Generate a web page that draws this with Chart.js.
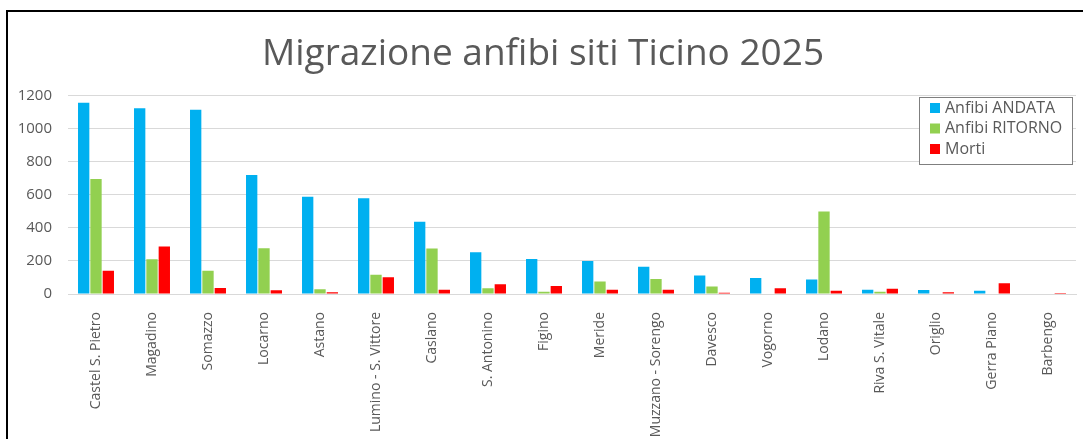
<!DOCTYPE html>
<html>
<head>
<meta charset="utf-8">
<script src="https://cdn.jsdelivr.net/npm/chart.js@4.4.1/dist/chart.umd.min.js"></script>
<style>
    html, body { margin: 0; padding: 0; background: #fff; overflow: hidden; }
    #wrap { position: relative; width: 1083px; height: 439px; }
    #frame { position: absolute; left: 6px; top: 10px; width: 1100px; height: 460px; border: 2px solid #000; box-sizing: border-box; }
    #chart { position: absolute; left: 0; top: 0; }
</style>
</head>
<body>
<div id="wrap">
    <div id="frame"></div>
    <canvas id="chart" width="1083" height="439"></canvas>
</div>
<script>
// siti e conteggi
var siti = ['Castel S. Pietro', 'Magadino', 'Somazzo', 'Locarno', 'Astano', 'Lumino - S. Vittore',
    'Caslano', 'S. Antonino', 'Figino', 'Meride', 'Muzzano - Sorengo', 'Davesco', 'Vogorno',
    'Lodano', 'Riva S. Vitale', 'Origlio', 'Gerra Piano', 'Barbengo'];
var andata  = [1155, 1123, 1113, 719, 588, 578, 436, 253, 212, 200, 164, 112, 97, 87, 26, 24, 20, 0];
var ritorno = [695, 210, 141, 277, 28, 117, 275, 34, 14, 75, 91, 46, 3, 499, 14, 0, 0, 0];
var morti   = [141, 287, 36, 22, 10, 101, 26, 59, 48, 26, 26, 7, 34, 20, 32, 10, 65, 6];
var yTicks  = [0, 200, 400, 600, 800, 1000, 1200];

var FONT = "'Open Sans', sans-serif";
var GREY = '#595959';

// legenda con cornice, disegnata sopra l'area del grafico
var boxLegend = {
    id: 'boxLegend',
    afterDraw: function(chart) {
        var ctx = chart.ctx;
        var x = 919, y = 97, w = 153, h = 67;
        ctx.save();
        ctx.fillStyle = '#fff';
        ctx.fillRect(x, y, w, h);
        ctx.strokeStyle = '#7f7f7f';
        ctx.lineWidth = 1;
        ctx.strokeRect(x + 0.5, y + 0.5, w, h);
        ctx.font = '16px ' + FONT;
        ctx.textBaseline = 'middle';
        chart.data.datasets.forEach(function(ds, i) {
            var cy = y + 11 + i * 20.5;
            ctx.fillStyle = ds.backgroundColor;
            ctx.fillRect(x + 11, cy - 5, 10, 10);
            ctx.fillStyle = GREY;
            ctx.fillText(ds.label, x + 26, cy);
        });
        ctx.restore();
    }
};

var ctx = document.getElementById('chart').getContext('2d');
var myChart = new Chart(ctx, {
    type: 'bar',
    data: {
        labels: siti,
        datasets: [
            { label: 'Anfibi ANDATA', data: andata, backgroundColor: '#00B0F0' },
            { label: 'Anfibi RITORNO', data: ritorno, backgroundColor: '#92D050' },
            { label: 'Morti', data: morti, backgroundColor: '#FF0000' }
        ]
    },
    options: {
        responsive: false,
        animation: false,
        devicePixelRatio: 1,
        layout: { padding: { left: 10, right: 7, top: 0, bottom: 0 } },
        datasets: {
            bar: { categoryPercentage: 0.66, barPercentage: 0.92 }
        },
        scales: {
            y: {
                min: 0,
                max: 1200,
                afterBuildTicks: function(scale) {
                    scale.ticks = yTicks.map(function(v) { return { value: v }; });
                },
                afterFit: function(scale) { scale.width = 58; },
                grid: { color: '#d9d9d9', drawTicks: false },
                border: { display: false },
                ticks: {
                    padding: 16, color: GREY, font: { family: FONT, size: 15 },
                    callback: function(v) { return String(v); }
                }
            },
            x: {
                afterFit: function(scale) { scale.height = 145; },
                grid: { display: false },
                border: { color: '#d9d9d9' },
                ticks: {
                    padding: 10, minRotation: 90, maxRotation: 90, autoSkip: false,
                    color: GREY, font: { family: FONT, size: 14 }
                }
            }
        },
        plugins: {
            legend: { display: false },
            tooltip: { enabled: false },
            title: {
                display: true,
                text: 'Migrazione anfibi siti Ticino 2025',
                color: GREY,
                font: { family: FONT, size: 37, weight: 'normal' },
                padding: { top: 32, bottom: 19 }
            }
        }
    },
    plugins: [boxLegend]
});
</script>
</body>
</html>
